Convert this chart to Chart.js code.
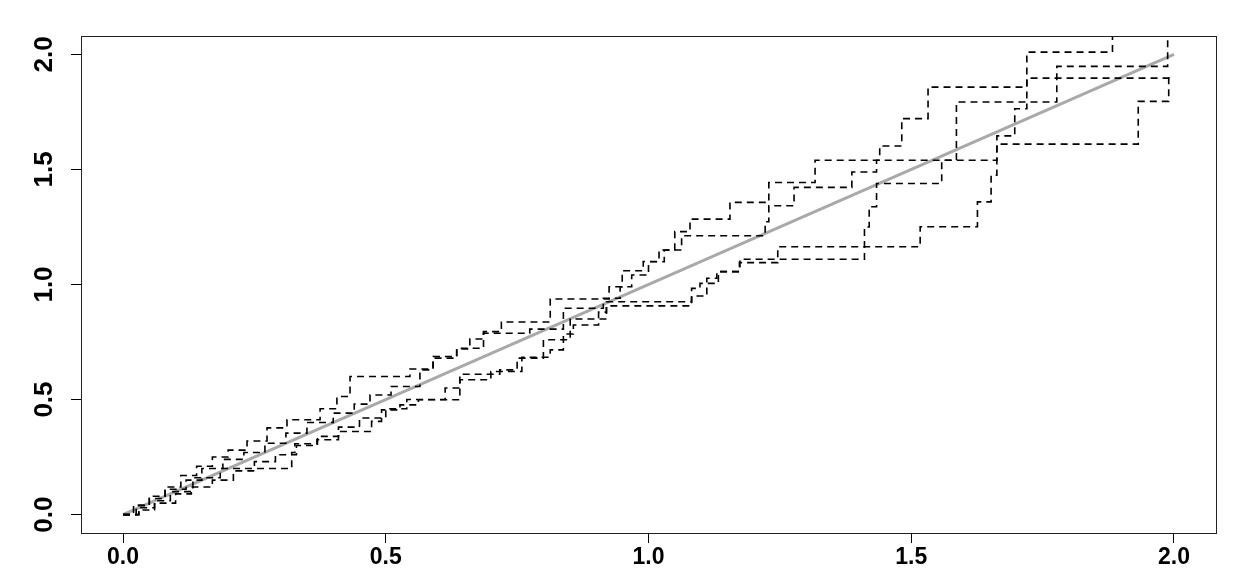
<!DOCTYPE html>
<html>
<head>
<meta charset="utf-8">
<script src="https://cdn.jsdelivr.net/npm/chart.js@4.4.1/dist/chart.umd.min.js"></script>
<style>
  html, body { margin: 0; padding: 0; background: #fff; }
  #wrap { width: 1240px; height: 588px; }
</style>
</head>
<body>
<div id="wrap"><canvas id="chart"></canvas></div>
<script>
// tick labels
const xTicks = [0, 0.5, 1, 1.5, 2];
const yTicks = [0, 0.5, 1, 1.5, 2];

// reference line y = x
const refX = [0, 2];
const refY = [0, 2];

// four step paths (x where the jump happens, level after the jump)
const aX = [0, 0.025, 0.05, 0.08, 0.11, 0.14, 0.17, 0.2, 0.236, 0.274, 0.312, 0.375, 0.407, 0.432, 0.546, 0.59, 0.635, 0.66, 0.686, 0.72, 0.813, 0.925, 0.95, 0.99, 1.02, 1.05, 1.079, 1.155, 1.229, 1.317, 1.44, 1.482, 1.532, 1.72, 1.883, 2.0];
const aY = [0, 0.04, 0.08, 0.12, 0.17, 0.21, 0.25, 0.28, 0.32, 0.377, 0.412, 0.46, 0.513, 0.60, 0.633, 0.687, 0.72, 0.763, 0.795, 0.837, 0.937, 0.99, 1.06, 1.10, 1.15, 1.23, 1.284, 1.357, 1.443, 1.54, 1.602, 1.721, 1.858, 2.01, 2.2, 2.2];

const bX = [0, 0.02, 0.05, 0.08, 0.12, 0.15, 0.19, 0.23, 0.27, 0.31, 0.35, 0.40, 0.44, 0.47, 0.51, 0.565, 0.59, 0.635, 0.686, 0.774, 0.838, 0.914, 0.946, 0.968, 1.0, 1.03, 1.063, 1.222, 1.229, 1.277, 1.387, 1.434, 1.586, 1.777, 1.988, 2.0];
const bY = [0, 0.04, 0.07, 0.11, 0.15, 0.2, 0.24, 0.27, 0.31, 0.354, 0.40, 0.441, 0.48, 0.52, 0.557, 0.629, 0.68, 0.723, 0.788, 0.806, 0.897, 0.94, 0.99, 1.041, 1.099, 1.15, 1.212, 1.273, 1.342, 1.422, 1.489, 1.54, 1.793, 1.948, 2.2, 2.2];

const cX = [0, 0.03, 0.06, 0.1, 0.13, 0.17, 0.21, 0.25, 0.29, 0.33, 0.37, 0.41, 0.45, 0.50, 0.54, 0.613, 0.641, 0.717, 0.75, 0.80, 0.851, 0.92, 1.082, 1.111, 1.13, 1.174, 1.411, 1.42, 1.434, 1.558, 1.663, 1.697, 1.72, 2.0];
const cY = [0, 0.02, 0.05, 0.09, 0.12, 0.15, 0.19, 0.23, 0.26, 0.30, 0.34, 0.38, 0.42, 0.46, 0.50, 0.55, 0.61, 0.629, 0.68, 0.76, 0.85, 0.925, 0.95, 1.027, 1.056, 1.11, 1.25, 1.338, 1.439, 1.54, 1.646, 1.764, 1.897, 1.897];

const dX = [0, 0.03, 0.06, 0.09, 0.133, 0.185, 0.321, 0.327, 0.369, 0.41, 0.473, 0.492, 0.527, 0.562, 0.641, 0.70, 0.759, 0.813, 0.838, 0.857, 0.905, 0.92, 1.082, 1.098, 1.133, 1.173, 1.246, 1.517, 1.626, 1.652, 1.663, 1.932, 1.99, 2.0];
const dY = [0, 0.03, 0.06, 0.10, 0.16, 0.20, 0.27, 0.308, 0.325, 0.361, 0.405, 0.455, 0.477, 0.499, 0.586, 0.622, 0.684, 0.716, 0.785, 0.824, 0.88, 0.907, 0.983, 1.005, 1.056, 1.095, 1.164, 1.251, 1.359, 1.475, 1.61, 1.796, 1.897, 1.897];

function pts(xs, ys) {
    const out = [];
    for (let i = 0; i < Math.min(xs.length, ys.length); i++) out.push({x: xs[i], y: ys[i]});
    return out;
}

function stepSet(xs, ys) {
    return {
        data: pts(xs, ys),
        stepped: true,
        borderColor: '#000',
        borderWidth: 1.6,
        borderDash: [7, 5],
        pointRadius: 0,
        fill: false
    };
}

const boxPlugin = {
    id: 'box',
    afterDraw(chart) {
        const a = chart.chartArea;
        const ctx = chart.ctx;
        ctx.save();
        ctx.strokeStyle = '#222';
        ctx.lineWidth = 1;
        ctx.strokeRect(a.left + 0.5, a.top + 0.5, a.right - a.left, a.bottom - a.top);
        ctx.restore();
    }
};

Chart.defaults.font.family = "'Liberation Sans', Arial, sans-serif";
Chart.defaults.color = '#000';

new Chart(document.getElementById('chart'), {
    type: 'line',
    data: {
        datasets: [
            stepSet(aX, aY),
            stepSet(bX, bY),
            stepSet(cX, cY),
            stepSet(dX, dY),
            {
                data: pts(refX, refY),
                borderColor: '#a9a9a9',
                borderWidth: 3,
                pointRadius: 0,
                fill: false
            }
        ]
    },
    options: {
        animation: false,
        responsive: true,
        maintainAspectRatio: false,
        devicePixelRatio: 1,
        layout: { padding: { top: 36, right: 24, left: 0, bottom: 0 } },
        plugins: { legend: { display: false }, tooltip: { enabled: false } },
        scales: {
            x: {
                type: 'linear',
                min: -0.08,
                max: 2.08,
                afterBuildTicks: s => { s.ticks = xTicks.map(v => ({value: v})); },
                afterFit: s => { s.height = 55; },
                ticks: {
                    callback: v => v.toFixed(1),
                    padding: 1,
                    maxRotation: 0,
                    font: { size: 23, weight: 'bold' }
                },
                grid: { drawOnChartArea: false, drawTicks: true, tickLength: 10, color: '#000' },
                border: { display: false }
            },
            y: {
                type: 'linear',
                min: -0.08,
                max: 2.08,
                afterBuildTicks: s => { s.ticks = yTicks.map(v => ({value: v})); },
                afterFit: s => { s.width = 81; },
                ticks: {
                    callback: v => v.toFixed(1),
                    padding: 8,
                    minRotation: 90,
                    maxRotation: 90,
                    crossAlign: 'center',
                    font: { size: 26, weight: 'bold' }
                },
                grid: { drawOnChartArea: false, drawTicks: true, tickLength: 10, color: '#000' },
                border: { display: false }
            }
        }
    },
    plugins: [boxPlugin]
});
</script>
</body>
</html>
